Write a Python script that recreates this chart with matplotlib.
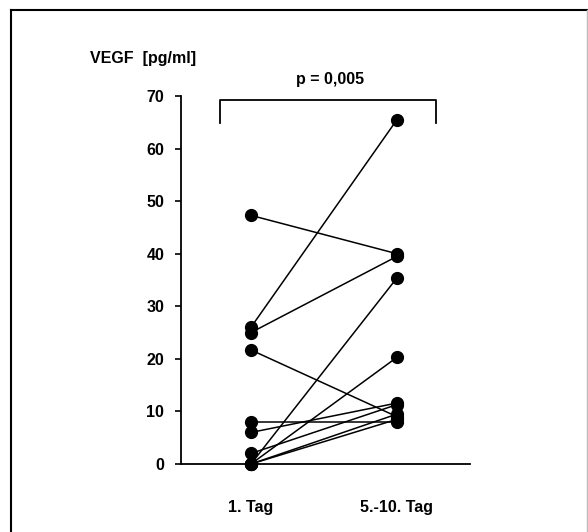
import matplotlib
matplotlib.use("Agg")
import matplotlib.pyplot as plt
from matplotlib.lines import Line2D

plt.rcParams['font.family'] = ['Liberation Sans', 'DejaVu Sans']
plt.rcParams['font.weight'] = 'bold'

# paired VEGF values, day 1 -> day 5-10
tag1 = [47.3, 26.0, 25.0, 21.7, 8.0, 6.0, 2.0, 0.0, 0.0, 0.0, 0.0]
tag5 = [40.0, 65.5, 39.5, 9.0, 8.0, 11.6, 11.3, 35.4, 20.3, 9.5, 8.5]
groups = ["1. Tag", "5.-10. Tag"]
yticks = [0, 10, 20, 30, 40, 50, 60, 70]

fig = plt.figure(figsize=(5.88, 5.32), dpi=100)
ax = fig.add_axes([0.3078, 0.1278, 0.4915, 0.6917])

for a, b in zip(tag1, tag5):
    ax.plot([0, 1], [a, b], color='black', lw=1.1, marker='o',
            markersize=8.5, markerfacecolor='black', markeredgecolor='black',
            clip_on=False, zorder=3)

ax.set_xlim(-0.479, 1.5)
ax.set_ylim(0, 70)
ax.set_yticks(yticks)
ax.set_yticklabels([str(v) for v in yticks], fontsize=11.5, fontweight='bold')
ax.set_xticks([0, 1])
ax.set_xticklabels(groups, fontsize=11.5, fontweight='bold')
ax.tick_params(axis='x', length=0, pad=26)
ax.tick_params(axis='y', direction='out', length=4, width=1.2, pad=8)
for s in ['top', 'right']:
    ax.spines[s].set_visible(False)
for s in ['left', 'bottom']:
    ax.spines[s].set_linewidth(1.3)

# significance bracket
ax.plot([-0.212, -0.212, 1.267, 1.267], [64.9, 69.2, 69.2, 64.9],
        color='black', lw=1.3, clip_on=False)
ax.text(0.545, 73.2, "p = 0,005", ha='center', va='center',
        fontsize=11.5, fontweight='bold', clip_on=False)

fig.text(90 / 588, 1 - 59 / 532, "VEGF  [pg/ml]", ha='left', va='center',
         fontsize=11.5, fontweight='bold')

# outer frame
fig.add_artist(Line2D([11 / 588, 11 / 588], [0, 1 - 10 / 532], color='black', lw=1.5))
fig.add_artist(Line2D([11 / 588, 1], [1 - 10 / 532, 1 - 10 / 532], color='black', lw=1.5))
fig.add_artist(Line2D([586.5 / 588, 586.5 / 588], [0, 1 - 10 / 532], color='#bbbbbb', lw=1.0))

fig.savefig("out.png", dpi=100, facecolor='white')
